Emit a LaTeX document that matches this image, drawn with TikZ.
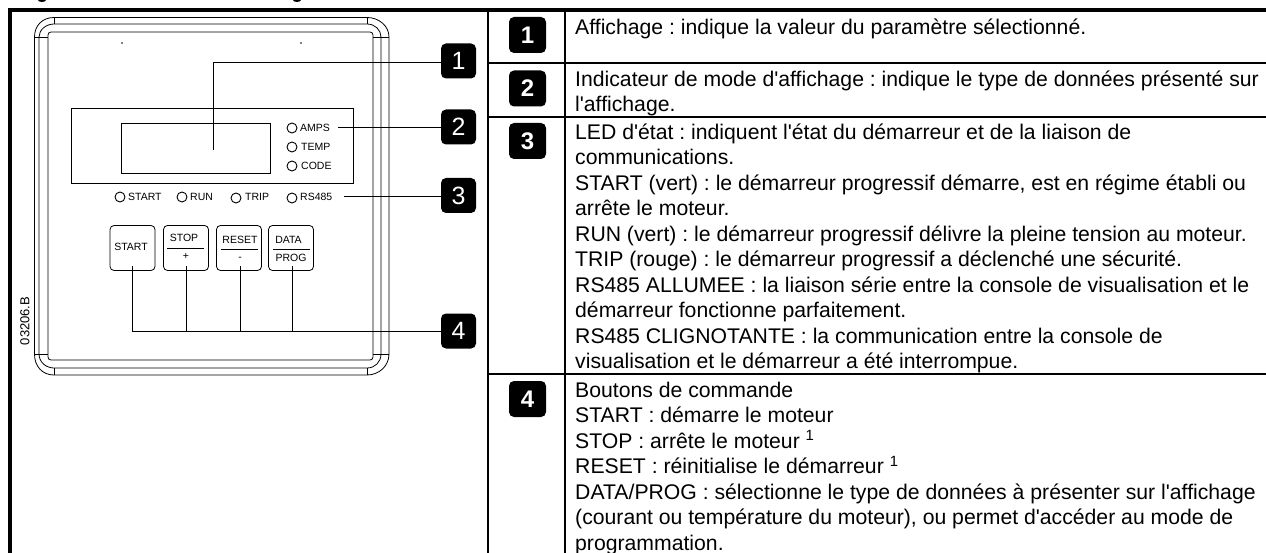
\documentclass[tikz,border=0pt]{standalone}
\usepackage{fontspec}
\setmainfont{Liberation Sans}[Ligatures=TeXOff]
\usetikzlibrary{positioning}
\tikzset{
	badgenode/.style={
			shape=rectangle,
			rounded corners=5pt,
			fill=black,
			text=white,
			minimum width=35pt,
			minimum height=35pt,
			inner sep=0pt,
			font=\fontsize{25}{25}\selectfont
		},
	keynode/.style={
			badgenode,
			minimum width=37pt,
			minimum height=36pt,
			font=\fontsize{24}{24}\selectfont\bfseries
		},
	buttonnode/.style={
			shape=rectangle,
			draw=black,
			line width=0.8pt,
			rounded corners=4pt,
			minimum width=45pt,
			minimum height=45pt,
			inner sep=0pt
		},
	lednode/.style={
			circle,
			draw=black,
			line width=0.9pt,
			minimum size=10pt,
			inner sep=0pt
		},
	ledtext/.style={
			anchor=west,
			inner sep=0pt,
			font=\fontsize{10.5}{11}\selectfont
		},
	keytext/.style={
			inner sep=0pt,
			font=\fontsize{10.5}{11}\selectfont
		},
	codetext/.style={
			inner sep=0pt,
			rotate=90,
			font=\fontsize{13}{13}\selectfont
		},
	desctext/.style={
			anchor=north west,
			align=left,
			inner sep=0pt,
			font=\frenchspacing\fontsize{21.2}{25.5}\selectfont
		},
	panelline/.style={line width=0.8pt},
	leaderline/.style={line width=1pt},
	gridline/.style={line width=1.6pt},
	frameline/.style={line width=4pt}
}

\begin{document}
\begin{tikzpicture}[x=1pt,y=-1pt]

  \useasboundingbox (0,0) rectangle (1266,553);

  \fill (42,0) ellipse (4 and 2);
  \fill (297,0) ellipse (4 and 2);

  \draw[frameline] (10,553) -- (10,10) -- (1266,10);
  \draw[gridline] (488,10) -- (488,553);
  \draw[gridline] (565,10) -- (565,553);
  \draw[gridline] (488,63) -- (1266,63);
  \draw[gridline] (488,117) -- (1266,117);
  \draw[gridline] (488,374) -- (1266,374);

  \draw[panelline] (34.5,37) -- (34.5,354) .. controls (34.5,366) and (42,375) .. (54,375) -- (367,375) .. controls (379,375) and (389,366) .. (389,354) -- (389,37) .. controls (389,26) and (379,17.5) .. (367,17.5) -- (54,17.5) .. controls (42,17.5) and (34.5,26) .. (34.5,37);
  \draw[panelline] (39,37) -- (39,354) .. controls (39,362) and (46,368) .. (54,368) -- (367,368) .. controls (375,368) and (381,362) .. (381,354) -- (381,37) .. controls (381,30) and (375,24) .. (367,24) -- (54,24) .. controls (46,24) and (39,30) .. (39,37);
  \draw[panelline, rounded corners=3pt] (48,32) rectangle (373,360);
  \draw[panelline] (54,17.5) -- (54,24);
  \draw[panelline] (367,17.5) -- (367,24);
  \draw[panelline] (54,368) -- (54,375);
  \draw[panelline] (367,368) -- (367,375);
  \draw[panelline] (34.5,37) -- (48,37);
  \draw[panelline] (373,37) -- (389,37);
  \draw[panelline] (34.5,354) -- (48,354);
  \draw[panelline] (373,354) -- (389,354);
  \fill (122,43) circle (0.8);
  \fill (301,43) circle (0.8);

  \node[draw=black, line width=0.8pt, minimum width=281.5pt, minimum height=75.5pt, inner sep=0pt] (outerscreen) at (212.25,145.75) {};
  \node[draw=black, line width=1pt, minimum width=148.5pt, minimum height=50.5pt, inner sep=0pt] (screen) at (195.75,148.75) {};

  \node[lednode] (d1) at (292,128) {};
  \node[lednode] (d2) at (292,147) {};
  \node[lednode] (d3) at (292,166) {};
  \node[lednode] (d4) at (120,197) {};
  \node[lednode] (d5) at (182,197) {};
  \node[lednode] (d6) at (236,198) {};
  \node[lednode] (d7) at (292,198) {};

  \node[ledtext] (e1) at (300,128) {AMPS};
  \node[ledtext] (e2) at (301,147) {TEMP};
  \node[ledtext] (e3) at (301,166) {CODE};
  \node[ledtext] (e4) at (128,197) {START};
  \node[ledtext] (e5) at (190,197) {RUN};
  \node[ledtext] (e6) at (245,197) {TRIP};
  \node[ledtext] (e7) at (300,197) {RS485};

  \node[buttonnode] (m1) at (132.5,248) {};
  \node[buttonnode] (m2) at (186,248) {};
  \node[buttonnode] (m3) at (239,248) {};
  \node[buttonnode] (m4) at (291,248) {};

  \node[keytext] (n1) at (131,247) {START};
  \node[keytext] (n2) at (184,238) {STOP};
  \node[keytext] (n3) at (186,256) {+};
  \node[keytext] (n4) at (240,240) {RESET};
  \node[keytext] (n5) at (240,259) {-};
  \node[keytext] (n6) at (288.5,240) {DATA};
  \node[keytext] (n7) at (291,258) {PROG};

  \draw[panelline] (167,248) -- (204,248);
  \draw[panelline] (220.5,249) -- (258,249);
  \draw[panelline] (273,249) -- (310,249);

  \node[codetext] (code) at (25,321) {03206.B};

  \node[badgenode] (b1) at (458.5,61) {1};
  \node[badgenode] (b2) at (458.5,127) {2};
  \node[badgenode] (b3) at (458.5,195.5) {3};
  \node[badgenode] (b4) at (458.5,331) {4};

  \coordinate (c1) at (213.5,150);
  \coordinate (c2) at (338,128);
  \coordinate (c3) at (344,197);
  \coordinate (c4) at (132.5,266);
  \coordinate (c5) at (186,266);
  \coordinate (c6) at (240.5,266);
  \coordinate (c7) at (292,266);

  \draw[leaderline] (c1) |- ([yshift=-2pt]b1.west);
  \draw[leaderline] (c2) -- (c2 -| b2.west);
  \draw[leaderline] (c3) -- (c3 -| b3.west);
  \draw[leaderline] (c4) |- (b4.west);
  \draw[leaderline] (c5) -- (c5 |- b4.west);
  \draw[leaderline] (c6) -- (c6 |- b4.west);
  \draw[leaderline] (c7) -- (c7 |- b4.west);

  \node[keynode] (k1) at (527.5,35) {1};
  \node[keynode] (k2) at (527.5,88.5) {2};
  \node[keynode] (k3) at (527.5,141) {3};
  \node[keynode] (k4) at (527.5,399) {4};

  \node[desctext] (t1) at (575,18.5) {Affichage : indique la valeur du paramètre sélectionné.};
  \node[desctext] (t2) at (575,70.5) {Indicateur de mode d'affichage : indique le type de données présenté sur\\l'affichage.};
  \node[desctext] (t3) at (575,123.5) {LED d'état : indiquent l'état du démarreur et de la liaison de\\communications.\\START (vert) : le démarreur progressif démarre, est en régime établi ou\\arrête le moteur.\\RUN (vert) : le démarreur progressif délivre la pleine tension au moteur.\\TRIP (rouge) : le démarreur progressif a déclenché une sécurité.\\RS485 ALLUMEE : la liaison série entre la console de visualisation et le\\démarreur fonctionne parfaitement.\\RS485 CLIGNOTANTE : la communication entre la console de\\visualisation et le démarreur a été interrompue.};
  \node[desctext] (t4) at (575,381.5) {Boutons de commande\\START : démarre le moteur\\STOP : arrête le moteur \textsuperscript{1}\\RESET : réinitialise le démarreur \textsuperscript{1}\\DATA/PROG : sélectionne le type de données à présenter sur l'affichage\\(courant ou température du moteur), ou permet d'accéder au mode de\\programmation.};

\end{tikzpicture}
\end{document}
